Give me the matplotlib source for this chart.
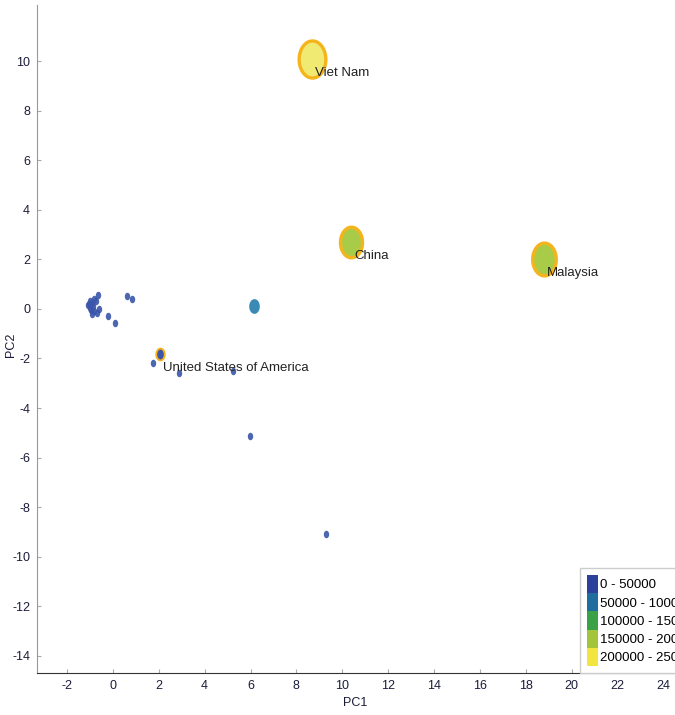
import numpy as np
import matplotlib.pyplot as plt
from matplotlib import font_manager as fm
from matplotlib.path import Path
from matplotlib.patches import Patch

# prefer a narrow face for the labels
installed = {f.name for f in fm.fontManager.ttflist}
if 'Liberation Sans Narrow' in installed:
    plt.rcParams['font.family'] = ['Liberation Sans Narrow', 'DejaVu Sans']
else:
    plt.rcParams['font.family'] = ['Liberation Sans', 'DejaVu Sans']
plt.rcParams['axes.unicode_minus'] = False

# labelled countries
names = ['Viet Nam', 'China', 'Malaysia', 'United States of America']
lab_pc1 = [8.7, 10.4, 18.8, 2.05]
lab_pc2 = [10.1, 2.7, 2.0, -1.82]
lab_value = [232000, 178000, 196000, 22000]

# the rest of the countries
pc1 = [-1.1, -1.05, -1.0, -0.95, -0.9, -0.85, -0.8, -0.8, -0.75, -0.7, -0.65,
       -0.6, -0.9, -1.0, -0.22, 0.09, 0.6, 0.83, 1.74, 2.87, 5.25, 5.97, 9.28, 6.14]
pc2 = [0.15, 0.2, 0.05, -0.05, 0.25, 0.1, 0.4, -0.1, 0.3, -0.15, 0.56,
       0.0, -0.2, 0.3, -0.28, -0.57, 0.52, 0.42, -2.18, -2.58, -2.5, -5.12, -9.07, 0.12]
value = [4000, 4000, 4000, 4000, 4000, 4000, 4000, 4000, 4000, 4000, 4000,
         4000, 4000, 4000, 4000, 4000, 4000, 4000, 4000, 4000, 4000, 4000, 4000, 64000]

bins = ['0 - 50000', '50000 - 100000', '100000 - 150000', '150000 - 200000', '200000 - 250000']
bin_colors = ['#2c409c', '#1f6e9e', '#3ba146', '#a2c53c', '#f3e53f']
fill_colors = ['#3a55aa', '#3a8ab5', '#4aa955', '#a9cc48', '#f0ea72']


def bin_of(v):
    return min(int(v // 50000), 4)


def marker_size(v):
    # marker height in pixels grows with value
    h = 7 + v / 232000 * 28
    return h * 0.72


# ellipse marker, taller than wide
t = np.linspace(0, 2 * np.pi, 60)
ell = Path(np.column_stack([0.72 * np.cos(t), np.sin(t)]), closed=True)

fig = plt.figure(figsize=(6.75, 7.15), dpi=100)
ax = fig.add_axes([0.055, 0.059, 0.945, 0.934])

for x, y, v in zip(pc1, pc2, value):
    b = bin_of(v)
    ax.plot(x, y, marker=ell, ms=marker_size(v), color=fill_colors[b],
            mec='none', alpha=0.9 if b == 0 else 1.0, ls='')

for n, x, y, v in zip(names, lab_pc1, lab_pc2, lab_value):
    b = bin_of(v)
    ms = marker_size(v)
    ax.plot(x, y, marker=ell, ms=ms + 1.5, mfc=fill_colors[b],
            mec='#f5b31c', mew=min(2.4, ms * 0.2), ls='', zorder=3)
    ax.annotate(n, (x, y), xytext=(3, -8), textcoords='offset pixels',
                ha='left', va='top', fontsize=9.5, color='#222222', zorder=4)

ax.set_xlim(-3.3, 24.5)
ax.set_ylim(-14.68, 12.26)
ax.set_xticks(np.arange(-2, 25, 2))
ax.set_yticks(np.arange(-14, 11, 2))
ax.tick_params(direction='in', length=3, color='#aaaaaa', labelsize=9,
               labelcolor='#1c1c3a', pad=5)
for s in ['top', 'right']:
    ax.spines[s].set_visible(False)
ax.spines['left'].set_color('#999999')
ax.spines['bottom'].set_color('#333333')

fig.text(0.526, 0.013, 'PC1', ha='center', fontsize=9, color='#1c1c3a')
fig.text(0.008, 0.518, 'PC2', va='center', rotation=90, fontsize=9, color='#1c1c3a')

handles = [Patch(facecolor=c, edgecolor='none', label=l) for c, l in zip(bin_colors, bins)]
leg = fig.legend(handles=handles, loc='upper left', bbox_to_anchor=(0.859, 0.206),
                 fontsize=9.5, handlelength=0.8, handleheight=1.75, labelspacing=0,
                 handletextpad=0.15, borderpad=0.55, borderaxespad=0,
                 fancybox=False, framealpha=1)
leg.get_frame().set_edgecolor('#cccccc')

fig.savefig('out.png', dpi=100)
